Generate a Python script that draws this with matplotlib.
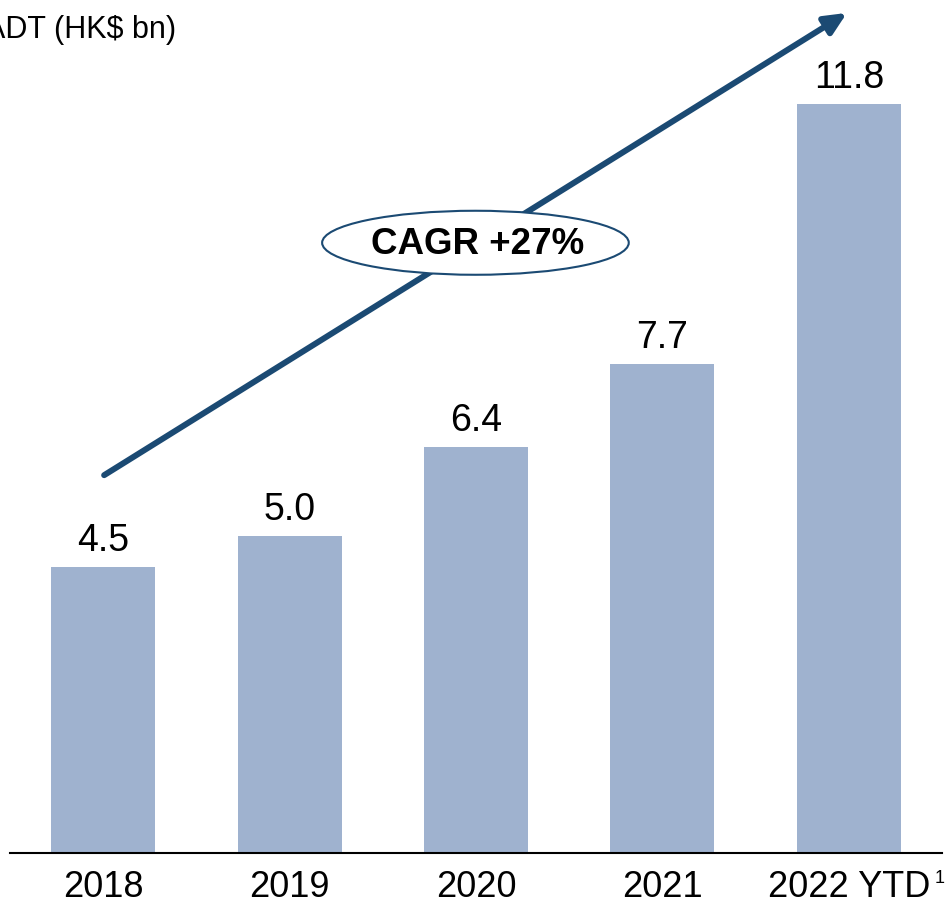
import matplotlib
matplotlib.use('Agg')
import matplotlib.pyplot as plt
from matplotlib.patches import Ellipse

plt.rcParams['font.family'] = ['Liberation Sans', 'DejaVu Sans']

years = ['2018', '2019', '2020', '2021', '2022 YTD']
adt = [4.5, 5.0, 6.4, 7.7, 11.8]
value_labels = ['4.5', '5.0', '6.4', '7.7', '11.8']

bar_color = '#9FB2CF'
navy = '#1B4A73'

fig = plt.figure(figsize=(9.46, 9.05), dpi=100)
# axes: x from px 10 to 942, baseline at px 853, top at px 0
ax = fig.add_axes([10 / 946, 52 / 905, 932 / 946, 853 / 905])

x = list(range(len(years)))
ax.bar(x, adt, width=0.557, color=bar_color, zorder=2)

for xi, v, lab in zip(x, adt, value_labels):
    ax.annotate(lab, (xi, v), xytext=(0, 11.5), textcoords='offset points',
                ha='center', va='baseline', fontsize=27, color='black')

ax.set_xlim(-0.5, 4.5)
ax.set_ylim(0, 853 / 63.5)
ax.set_xticks(x)
ax.set_xticklabels(years, fontsize=26)
ax.tick_params(axis='x', length=0, pad=12)
ax.set_yticks([])
for s in ['top', 'right', 'left']:
    ax.spines[s].set_visible(False)
ax.spines['bottom'].set_linewidth(1.5)
ax.spines['bottom'].set_color('black')

# footnote marker on last label
ax.text(4.462, -0.47, '1', fontsize=13, ha='left', va='baseline', clip_on=False)

# CAGR arrow
ax.annotate('', xy=(3.99, 13.23), xytext=(0.005, 5.95),
            arrowprops=dict(arrowstyle='-|>,head_length=1.3,head_width=0.6',
                            color=navy, lw=4.3, shrinkA=0, shrinkB=0),
            annotation_clip=False, zorder=3)

ell = Ellipse((1.997, 9.61), 1.645, 1.008, facecolor='white',
              edgecolor=navy, lw=1.5, zorder=4)
ax.add_patch(ell)
ax.text(2.01, 9.59, 'CAGR +27%', fontsize=26.5, fontweight='bold',
        ha='center', va='center', zorder=5)

fig.text(-15 / 946, 1 - 38 / 905, 'ADT (HK$ bn)', fontsize=22,
         ha='left', va='baseline')

fig.savefig('out.png', dpi=100)
